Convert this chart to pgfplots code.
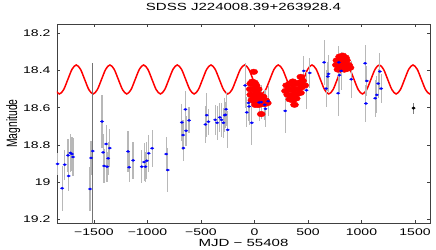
\documentclass[border=0pt]{standalone}
\usepackage{pgfplots}
\pgfplotsset{compat=1.18}
\usepackage{fontspec}
\setmainfont{Liberation Sans}

\begin{document}
\begin{tikzpicture}
\begin{axis}[
  scale only axis, width=373bp, height=199bp,
  at={(0,0)}, anchor=south west,
  xmin=-1845, xmax=1640, ymin=18.15, ymax=19.22,
  y dir=reverse,
  xtick={-1500,-1000,-500,0,500,1000,1500},
  xticklabels={−1500,−1000,−500,0,500,1000,1500},
  ytick={18.2,18.4,18.6,18.8,19,19.2},
  yticklabels={18.2,18.4,18.6,18.8,19,19.2},
  tick align=inside, major tick length=3bp, tick pos=both, ticklabel pos=left,
  axis line style={black!75, line width=0.5bp},
  every tick/.style={black!75, line width=0.5bp},
  tick label style={font=\fontsize{9.7}{11}\selectfont, xscale=1.45},
  xticklabel style={anchor=base, yshift=-12.5bp},
  yticklabel style={anchor=east, xshift=-1bp},
  title={SDSS J224008.39+263928.4},
  title style={font=\fontsize{10.4}{12}\selectfont, xscale=1.45, at={(axis description cs:0.5,1)}, anchor=base, yshift=7.5bp},
  xlabel={MJD − 55408},
  xlabel style={font=\fontsize{10.4}{12}\selectfont, xscale=1.45, at={(axis description cs:0.5,-0.1156)}, anchor=base},
  ylabel={Magnitude},
  ylabel style={font=\fontsize{10.4}{12}\selectfont, at={(axis description cs:-0.107,0.5)}, anchor=base, yscale=1.45},
]
% model sinusoid
\addplot[red, line width=1.5bp, smooth, mark=none] coordinates {
(-1979.6,18.370)(-1940.3,18.393)(-1900.9,18.448)(-1861.6,18.503)(-1822.3,18.526)(-1783.0,18.503)(-1743.7,18.448)(-1704.3,18.393)
(-1665.0,18.370)(-1625.7,18.393)(-1586.4,18.448)(-1547.0,18.503)(-1507.7,18.526)(-1468.4,18.503)(-1429.1,18.448)(-1389.7,18.393)
(-1350.4,18.370)(-1311.1,18.393)(-1271.8,18.448)(-1232.4,18.503)(-1193.1,18.526)(-1153.8,18.503)(-1114.5,18.448)(-1075.1,18.393)
(-1035.8,18.370)(-996.5,18.393)(-957.2,18.448)(-917.8,18.503)(-878.5,18.526)(-839.2,18.503)(-799.9,18.448)(-760.5,18.393)
(-721.2,18.370)(-681.9,18.393)(-642.6,18.448)(-603.3,18.503)(-563.9,18.526)(-524.6,18.503)(-485.3,18.448)(-446.0,18.393)
(-406.6,18.370)(-367.3,18.393)(-328.0,18.448)(-288.7,18.503)(-249.3,18.526)(-210.0,18.503)(-170.7,18.448)(-131.4,18.393)
(-92.0,18.370)(-52.7,18.393)(-13.4,18.448)(25.9,18.503)(65.3,18.526)(104.6,18.503)(143.9,18.448)(183.2,18.393)
(222.6,18.370)(261.9,18.393)(301.2,18.448)(340.5,18.503)(379.9,18.526)(419.2,18.503)(458.5,18.448)(497.8,18.393)
(537.2,18.370)(576.5,18.393)(615.8,18.448)(655.1,18.503)(694.5,18.526)(733.8,18.503)(773.1,18.448)(812.4,18.393)
(851.8,18.370)(891.1,18.393)(930.4,18.448)(969.7,18.503)(1009.1,18.526)(1048.4,18.503)(1087.7,18.448)(1127.0,18.393)
(1166.4,18.370)(1205.7,18.393)(1245.0,18.448)(1284.3,18.503)(1323.7,18.526)(1363.0,18.503)(1402.3,18.448)(1441.6,18.393)
(1481.0,18.370)(1520.3,18.393)(1559.6,18.448)(1598.9,18.503)(1638.2,18.526)(1677.6,18.503)(1716.9,18.448)
};
% red dense photometry
\addplot[only marks, mark=*, mark size=2.8bp, color=red, mark options={xscale=1.45, fill=red, draw=red}] coordinates {
(-7,18.407)
(-35,18.47)(-20,18.46)(0,18.465)(15,18.48)
(-40,18.50)(-20,18.50)(0,18.50)(20,18.51)(35,18.50)
(-35,18.53)(-15,18.535)(5,18.53)(25,18.54)(45,18.53)(80,18.54)
(-25,18.56)(0,18.565)(25,18.57)(50,18.56)(75,18.555)(105,18.56)
(10,18.585)(40,18.585)(65,18.58)(95,18.58)(120,18.575)
(63,18.634)
(433,18.434)(358,18.459)
(300,18.48)(330,18.47)(360,18.475)(390,18.47)(420,18.465)(450,18.455)
(290,18.51)(320,18.50)(350,18.505)(380,18.50)(410,18.50)(440,18.49)(470,18.48)
(310,18.53)(340,18.535)(370,18.53)(400,18.525)(430,18.52)
(330,18.555)(360,18.56)(390,18.55)
(374,18.584)
(795,18.325)(825,18.32)(850,18.33)
(770,18.345)(800,18.34)(830,18.34)(860,18.345)
(765,18.37)(790,18.365)(820,18.37)(850,18.365)(880,18.37)
(780,18.395)(810,18.39)(840,18.395)(870,18.39)(893,18.385)
};
% error bars
\addplot[draw=none, mark=none, error bars/.cd, y dir=both, y explicit, error mark=none,
  error bar style={draw=black!28, line width=1.2bp}] table[x=x, y=y, y error=e] {
x y e
-1840 18.902 0.06
-1797 19.033 0.12
-1773 18.906 0.08
-1742 18.856 0.09
-1736 18.967 0.08
-1720 18.843 0.10
-1705 18.849 0.09
-1695 18.865 0.10
-1536 19.037 0.12
-1527 18.870 0.09
-1424 18.674 0.14
-1414 18.840 0.10
-1405 18.913 0.09
-1386 18.795 0.10
-1377 18.917 0.08
-1367 18.872 0.09
-1352 18.817 0.10
-1181 18.835 0.11
-1171 18.920 0.08
-1134 18.883 0.10
-1053 18.917 0.09
-1031 18.892 0.10
-1019 18.917 0.08
-1006 18.885 0.10
-988 18.845 0.10
-956 18.818 0.10
-825 18.849 0.09
-810 18.935 0.12
-679 18.679 0.10
-667 18.747 0.08
-664 18.817 0.07
-645 18.609 0.10
-639 18.724 0.08
-611 18.668 0.07
-458 18.690 0.10
-446 18.640 0.12
-430 18.675 0.07
-367 18.665 0.08
-349 18.681 0.09
-324 18.652 0.08
-308 18.665 0.09
-290 18.681 0.08
-278 18.640 0.09
-271 18.638 0.07
-265 18.608 0.09
-250 18.719 0.10
-87 18.480 0.12
-72 18.625 0.08
-56 18.574 0.10
-50 18.593 0.10
-25 18.681 0.12
44 18.572 0.10
63 18.570 0.09
96 18.584 0.08
103 18.606 0.10
128 18.565 0.08
287 18.617 0.12
461 18.402 0.08
486 18.506 0.10
517 18.413 0.08
651 18.356 0.12
670 18.497 0.10
685 18.432 0.08
692 18.418 0.10
782 18.522 0.12
788 18.356 0.09
794 18.425 0.09
810 18.402 0.10
904 18.447 0.10
1034 18.361 0.10
1041 18.577 0.10
1050 18.456 0.08
1128 18.549 0.10
1143 18.531 0.10
1156 18.470 0.08
1171 18.405 0.10
1184 18.497 0.08
};
% one poorly measured point (dark bar)
\addplot[draw=none, mark=none, error bars/.cd, y dir=both, y explicit, error mark=none,
  error bar style={draw=black!55, line width=0.8bp}] table[x=x, y=y, y error=e] {
x y e
-1511 18.833 0.476
};
% blue points
\addplot[only marks, mark=*, mark size=1.15bp, color=blue, mark options={xscale=1.55, fill=blue, draw=blue, line width=0.2bp}] table[x=x, y=y] {
x y
-1840 18.902
-1797 19.033
-1773 18.906
-1742 18.856
-1736 18.967
-1720 18.843
-1705 18.849
-1695 18.865
-1536 19.037
-1527 18.870
-1511 18.833
-1424 18.674
-1414 18.840
-1405 18.913
-1386 18.795
-1377 18.917
-1367 18.872
-1352 18.817
-1181 18.835
-1171 18.920
-1134 18.883
-1053 18.917
-1031 18.892
-1019 18.917
-1006 18.885
-988 18.845
-956 18.818
-825 18.849
-810 18.935
-679 18.679
-667 18.747
-664 18.817
-645 18.609
-639 18.724
-611 18.668
-458 18.690
-446 18.640
-430 18.675
-367 18.665
-349 18.681
-324 18.652
-308 18.665
-290 18.681
-278 18.640
-271 18.638
-265 18.608
-250 18.719
-87 18.480
-72 18.625
-56 18.574
-50 18.593
-25 18.681
44 18.572
63 18.570
96 18.584
103 18.606
128 18.565
287 18.617
461 18.402
486 18.506
517 18.413
651 18.356
670 18.497
685 18.432
692 18.418
782 18.522
788 18.356
794 18.425
810 18.402
904 18.447
1034 18.361
1041 18.577
1050 18.456
1128 18.549
1143 18.531
1156 18.470
1171 18.405
1184 18.497
};
% recent point
\addplot[only marks, mark=*, mark size=1.3bp, color=black, mark options={xscale=1.3, fill=black},
  error bars/.cd, y dir=both, y explicit, error mark=none, error bar style={line width=0.8bp, black!50}]
  table[x=x, y=y, y error=e] {
x y e
1486 18.602 0.03
};
\end{axis}
\useasboundingbox (-57bp,-26bp) rectangle (379bp,219bp);
\end{tikzpicture}
\end{document}
